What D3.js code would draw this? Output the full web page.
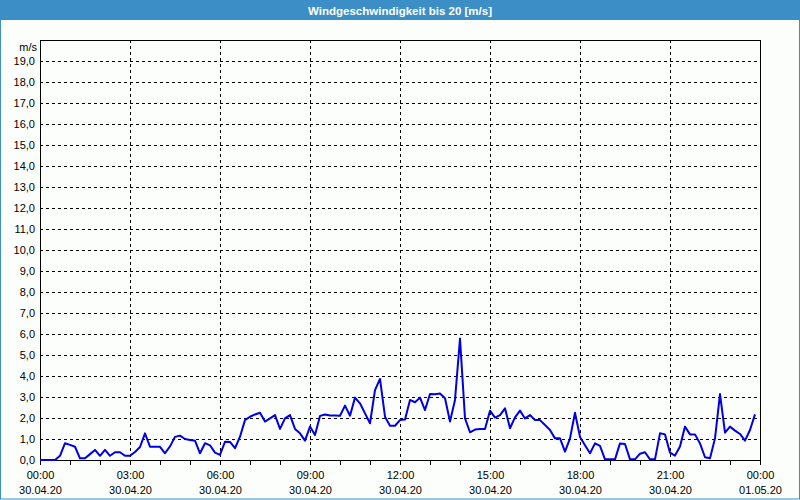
<!DOCTYPE html>
<html>
<head>
<meta charset="utf-8">
<script src="https://cdn.jsdelivr.net/npm/d3@7"></script>
<style>
  html, body { margin: 0; padding: 0; background: #fcfefc; }
  svg { display: block; }
  text { font-family: "Liberation Sans", Arial, sans-serif; }
</style>
</head>
<body>
<svg id="chart" width="800" height="500"></svg>
<script>
// ---- data ----
const title = "Windgeschwindigkeit bis 20 [m/s]";
const unitLabel = "m/s";
const day = "2020-04-30";
const times = [
  "00:00","00:10","00:20","00:30","00:40","00:50","01:00","01:10","01:20","01:30","01:40","01:50",
  "02:00","02:10","02:20","02:30","02:40","02:50","03:00","03:10","03:20","03:30","03:40","03:50",
  "04:00","04:10","04:20","04:30","04:40","04:50","05:00","05:10","05:20","05:30","05:40","05:50",
  "06:00","06:10","06:20","06:30","06:40","06:50","07:00","07:10","07:20","07:30","07:40","07:50",
  "08:00","08:10","08:20","08:30","08:40","08:50","09:00","09:10","09:20","09:30","09:40","09:50",
  "10:00","10:10","10:20","10:30","10:40","10:50","11:00","11:10","11:20","11:30","11:40","11:50",
  "12:00","12:10","12:20","12:30","12:40","12:50","13:00","13:10","13:20","13:30","13:40","13:50",
  "14:00","14:10","14:20","14:30","14:40","14:50","15:00","15:10","15:20","15:30","15:40","15:50",
  "16:00","16:10","16:20","16:30","16:40","16:50","17:00","17:10","17:20","17:30","17:40","17:50",
  "18:00","18:10","18:20","18:30","18:40","18:50","19:00","19:10","19:20","19:30","19:40","19:50",
  "20:00","20:10","20:20","20:30","20:40","20:50","21:00","21:10","21:20","21:30","21:40","21:50",
  "22:00","22:10","22:20","22:30","22:40","22:50","23:00","23:10","23:20","23:30","23:40","23:50"
];
const speeds = [
  0.00,0.00,0.00,0.00,0.20,0.80,0.72,0.63,0.08,0.08,0.28,0.48,
  0.20,0.48,0.20,0.37,0.37,0.20,0.20,0.38,0.62,1.27,0.63,0.63,
  0.63,0.32,0.65,1.10,1.16,1.00,0.95,0.92,0.32,0.80,0.70,0.35,
  0.24,0.87,0.86,0.56,1.11,1.90,2.06,2.17,2.25,1.83,1.98,2.14,
  1.48,1.98,2.14,1.48,1.27,0.92,1.59,1.19,2.10,2.17,2.12,2.12,
  2.11,2.59,2.11,2.97,2.70,2.22,1.75,3.33,3.86,2.06,1.63,1.63,
  1.90,1.93,2.86,2.75,2.97,2.38,3.14,3.13,3.17,2.94,1.83,2.86,
  5.78,1.98,1.32,1.45,1.48,1.48,2.35,2.02,2.14,2.46,1.51,2.03,
  2.35,1.98,2.14,1.90,1.90,1.67,1.43,1.03,1.03,0.40,1.03,2.25,
  1.10,0.70,0.32,0.79,0.67,0.03,0.03,0.03,0.79,0.76,0.03,0.03,
  0.30,0.37,0.03,0.03,1.27,1.22,0.35,0.21,0.64,1.59,1.22,1.22,
  0.79,0.13,0.08,1.03,3.14,1.30,1.59,1.40,1.24,0.92,1.43,2.17
];
const yTicks = [0,1,2,3,4,5,6,7,8,9,10,11,12,13,14,15,16,17,18,19];
const yMax = 20;
const xStart = "2020-04-30T00:00";
const xEnd = "2020-05-01T00:00";

// ---- layout ----
const W = 800, H = 500;
const M = {left: 40, right: 40, top: 40, bottom: 40};
const svg = d3.select("#chart");
const parse = d3.timeParse("%Y-%m-%dT%H:%M");
const data = times.map((t, i) => ({t: parse(day + "T" + t), v: speeds[i]}));

const x = d3.scaleTime().domain([parse(xStart), parse(xEnd)]).range([M.left, W - M.right]);
const y = d3.scaleLinear().domain([0, yMax]).range([H - M.bottom, M.top]);

// background
svg.append("rect").attr("width", W).attr("height", H).attr("fill", "#fcfefc");
// window frame
svg.append("rect").attr("x", 0.5).attr("y", 0.5).attr("width", W - 1).attr("height", H - 1.5)
  .attr("fill", "none").attr("stroke", "#3c8fc6").attr("stroke-width", 1);
// title bar
svg.append("rect").attr("x", 0).attr("y", 0).attr("width", W).attr("height", 20).attr("fill", "#3c8fc6");
svg.append("text").attr("x", W / 2).attr("y", 14.5).attr("text-anchor", "middle")
  .attr("fill", "#ffffff").attr("font-weight", "bold").attr("font-size", "11.5px").text(title);

// horizontal grid
svg.append("g")
  .selectAll("line").data(yTicks.filter(d => d > 0)).join("line")
  .attr("x1", M.left).attr("x2", W - M.right)
  .attr("y1", d => Math.round(y(d)) + 0.5).attr("y2", d => Math.round(y(d)) + 0.5)
  .attr("stroke", "#000").attr("stroke-width", 1).attr("stroke-dasharray", "3,3");

// vertical grid every 3 hours
const major = d3.timeHour.every(3).range(parse(xStart), parse(xEnd)).slice(1);
svg.append("g")
  .selectAll("line").data(major).join("line")
  .attr("x1", d => Math.round(x(d)) + 0.5).attr("x2", d => Math.round(x(d)) + 0.5)
  .attr("y1", M.top).attr("y2", H - M.bottom)
  .attr("stroke", "#000").attr("stroke-width", 1).attr("stroke-dasharray", "3,3");

// plot frame
svg.append("rect").attr("x", M.left + 0.5).attr("y", M.top + 0.5)
  .attr("width", W - M.left - M.right).attr("height", H - M.top - M.bottom)
  .attr("fill", "none").attr("stroke", "#000").attr("stroke-width", 1);

// x axis minor ticks (every 90 min)
const minor = d3.timeMinute.every(90).range(parse(xStart), d3.timeMinute.offset(parse(xEnd), 1));
svg.append("g")
  .selectAll("line").data(minor).join("line")
  .attr("x1", d => Math.round(x(d)) + 0.5).attr("x2", d => Math.round(x(d)) + 0.5)
  .attr("y1", H - M.bottom).attr("y2", H - M.bottom + 5)
  .attr("stroke", "#000");

// x axis labels
const xAxis = d3.axisBottom(x)
  .tickValues(d3.timeHour.every(3).range(parse(xStart), d3.timeMinute.offset(parse(xEnd), 1)))
  .tickSize(0).tickPadding(0).tickFormat("");
const gx = svg.append("g").attr("transform", `translate(0,${H - M.bottom})`).call(xAxis);
gx.select(".domain").remove();
const fmtT = d3.timeFormat("%H:%M"), fmtD = d3.timeFormat("%d.%m.%y");
gx.selectAll(".tick").each(function(d) {
  const g = d3.select(this);
  g.append("text").attr("y", 19).attr("text-anchor", "middle").attr("fill", "#000")
    .attr("font-size", "11px").text(fmtT(d));
  g.append("text").attr("y", 34).attr("text-anchor", "middle").attr("fill", "#000")
    .attr("font-size", "11px").text(fmtD(d));
});

// y axis labels
const yAxis = d3.axisLeft(y).tickValues(yTicks).tickSize(0).tickPadding(5)
  .tickFormat(d => d.toFixed(1).replace(".", ","));
const gy = svg.append("g").attr("transform", `translate(${M.left},0)`).call(yAxis);
gy.select(".domain").remove();
gy.selectAll("text").attr("font-size", "11px").attr("fill", "#000")
  .attr("font-family", "Liberation Sans, Arial, sans-serif");
svg.append("text").attr("x", 37).attr("y", 51).attr("text-anchor", "end")
  .attr("font-size", "11px").attr("fill", "#000").text(unitLabel);

// line
const line = d3.line().x(d => x(d.t)).y(d => y(d.v));
svg.append("path").datum(data).attr("d", line)
  .attr("fill", "none").attr("stroke", "#0000e0").attr("stroke-width", 2)
  .attr("stroke-linejoin", "round");
</script>
</body>
</html>
